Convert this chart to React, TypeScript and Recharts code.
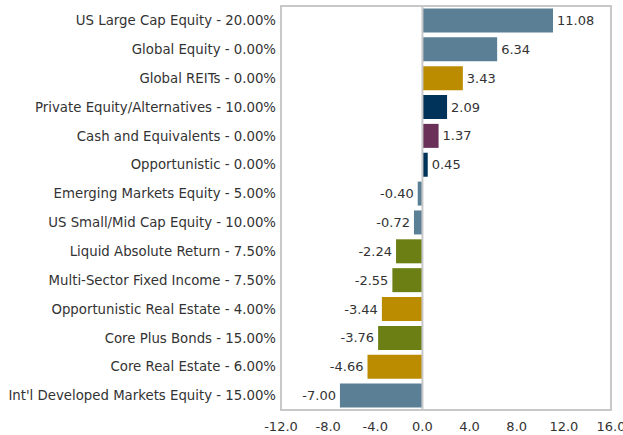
import React from 'react';
import { BarChart, Bar, XAxis, YAxis, Cell, LabelList, ReferenceLine, ReferenceArea } from 'recharts';

const categories = [
  'US Large Cap Equity - 20.00%',
  'Global Equity - 0.00%',
  'Global REITs - 0.00%',
  'Private Equity/Alternatives  - 10.00%',
  'Cash and Equivalents - 0.00%',
  'Opportunistic - 0.00%',
  'Emerging Markets Equity - 5.00%',
  'US Small/Mid Cap Equity - 10.00%',
  'Liquid Absolute Return - 7.50%',
  'Multi-Sector Fixed Income - 7.50%',
  'Opportunistic Real Estate - 4.00%',
  'Core Plus Bonds - 15.00%',
  'Core Real Estate - 6.00%',
  "Int'l Developed Markets Equity - 15.00%",
];

const values = [11.08, 6.34, 3.43, 2.09, 1.37, 0.45, -0.4, -0.72, -2.24, -2.55, -3.44, -3.76, -4.66, -7.0];

const xTicks = [-12, -8, -4, 0, 4, 8, 12, 16];

const STEEL = '#5b7f95';
const GOLD = '#bb8b00';
const NAVY = '#003359';
const PURPLE = '#6b3058';
const OLIVE = '#6b7f14';
const barColors = [STEEL, STEEL, GOLD, NAVY, PURPLE, NAVY, STEEL, STEEL, OLIVE, OLIVE, GOLD, OLIVE, GOLD, STEEL];

const data = categories.map((name, i) => ({ name, value: values[i] }));

const FONT = '"DejaVu Sans", sans-serif';

const ValueLabel = (props: any) => {
  const { x, y, width, height, value } = props;
  const neg = value < 0;
  const edge = neg ? Math.min(x, x + width) : Math.max(x, x + width);
  return (
    <text
      x={neg ? edge - 4 : edge + 4}
      y={y + height / 2}
      dy="0.35em"
      textAnchor={neg ? 'end' : 'start'}
      fill="#333"
      fontSize={13}
      fontFamily={FONT}
    >
      {value.toFixed(2)}
    </text>
  );
};

export default function App() {
  return (
    <div style={{ position: 'absolute', left: 0, top: 0, background: '#fff' }}>
      <BarChart
        width={623}
        height={435}
        data={data}
        layout="vertical"
        margin={{ top: 6, right: 12, bottom: 0, left: 0 }}
        barCategoryGap="8.5%"
      >
        <XAxis
          type="number"
          domain={[-12, 16]}
          ticks={xTicks}
          tickFormatter={(v: number) => v.toFixed(1)}
          axisLine={false}
          tickLine={false}
          tickSize={0}
          tickMargin={12}
          height={25}
          interval={0}
          tick={{ fill: '#333', fontSize: 13, fontFamily: FONT }}
        />
        <YAxis
          type="category"
          dataKey="name"
          width={281}
          axisLine={false}
          tickLine={false}
          tickSize={0}
          tickMargin={5}
          interval={0}
          tick={{ fill: '#333', fontSize: 13.3, fontFamily: FONT }}
        />
        <ReferenceArea x1={-12} x2={16} fill="none" stroke="#c8c8c8" strokeWidth={2} ifOverflow="visible" />
        <Bar dataKey="value" isAnimationActive={false}>
          {data.map((d, i) => (
            <Cell key={d.name} fill={barColors[i]} />
          ))}
          <LabelList dataKey="value" content={ValueLabel} />
        </Bar>
        <ReferenceLine x={0} stroke="#c8c8c8" strokeWidth={2} />
      </BarChart>
    </div>
  );
}
